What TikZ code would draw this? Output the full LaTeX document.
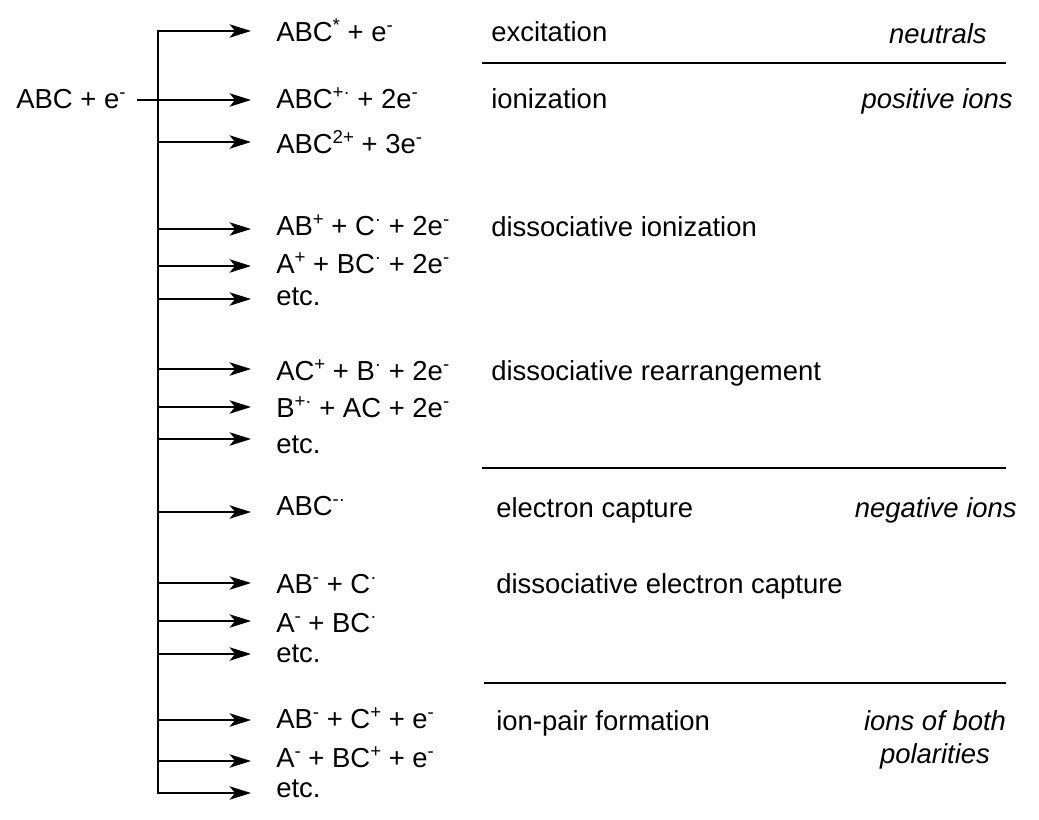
\documentclass[tikz,border=0pt]{standalone}
\usepackage{fontspec}
\setmainfont{Liberation Sans}
\usetikzlibrary{arrows.meta}
% small raised charge / radical marks
\newcommand{\chsup}[1]{\raisebox{7.5pt}{\fontsize{14}{14}\selectfont #1}}

\begin{document}
\begin{tikzpicture}[x=0.75pt,y=-0.75pt,
  txt/.style={inner sep=0pt,anchor=base west,font=\fontsize{20.6}{24}\selectfont},
  cls/.style={inner sep=0pt,anchor=base east,font=\fontsize{20.6}{24}\selectfont\itshape},
  sep/.style={line width=1.3pt},
  trunk/.style={line width=1.5pt,line cap=rect},
  arr/.style={line width=1.5pt,-{Stealth[length=16pt,width=10pt,inset=4pt]}}]
\useasboundingbox (0,0) rectangle (1039,819);

% reactant
\node[txt] (src) at (16,108) {ABC + e\chsup{-}};
\coordinate (s0) at (137,100);

% branch points on the trunk and arrow tips
\foreach \i/\y in {1/31,3/142,4/229,5/266,6/299,7/369,8/407,9/439,
                   10/512,11/583,12/621,13/654,14/720,15/761,16/793}{
  \coordinate (b\i) at (158,\y);
  \coordinate (t\i) at (251,\y);
}
\coordinate (t2) at (251,100);

% trunk
\draw[trunk] (b1) -- (b16);
\draw[arr] (s0) -- (t2);
\foreach \i in {1,3,4,5,6,7,8,9,10,11,12,13,14,15,16}{
  \draw[arr] (b\i) -- (t\i);
}

% products
\node[txt] (p1)  at (276,41)  {ABC\chsup{*} + e\chsup{-}};
\node[txt] (p2)  at (276,108) {ABC\chsup{+·} + 2e\chsup{-}};
\node[txt] (p3)  at (276,153) {ABC\chsup{2+} + 3e\chsup{-}};
\node[txt] (p4)  at (276,235) {AB\chsup{+} + C\chsup{·} + 2e\chsup{-}};
\node[txt] (p5)  at (276,273) {A\chsup{+} + BC\chsup{·} + 2e\chsup{-}};
\node[txt] (p6)  at (276,305) {etc.};
\node[txt] (p7)  at (276,380) {AC\chsup{+} + B\chsup{·} + 2e\chsup{-}};
\node[txt] (p8)  at (276,417) {B\chsup{+·} + AC + 2e\chsup{-}};
\node[txt] (p9)  at (276,453) {etc.};
\node[txt] (p10) at (276,515) {ABC\chsup{-·}};
\node[txt] (p11) at (276,593) {AB\chsup{-} + C\chsup{·}};
\node[txt] (p12) at (276,632) {A\chsup{-} + BC\chsup{·}};
\node[txt] (p13) at (276,662) {etc.};
\node[txt] (p14) at (276,728) {AB\chsup{-} + C\chsup{+} + e\chsup{-}};
\node[txt] (p15) at (276,767) {A\chsup{-} + BC\chsup{+} + e\chsup{-}};
\node[txt] (p16) at (276,797) {etc.};

% process names
\node[txt] (l1) at (491,41)  {excitation};
\node[txt] (l2) at (491,108) {ionization};
\node[txt] (l3) at (491,236) {dissociative ionization};
\node[txt] (l4) at (491,380) {dissociative rearrangement};
\node[txt] (l5) at (496,517) {electron capture};
\node[txt] (l6) at (496,593) {dissociative electron capture};
\node[txt] (l7) at (496,730) {ion-pair formation};

% product classes
\node[cls] (c1) at (987,43)   {neutrals};
\node[cls] (c2) at (1013,108) {positive ions};
\node[cls] (c3) at (1017,517) {negative ions};
\node[cls,anchor=base] (c4a) at (935,730) {ions of both};
\node[cls,anchor=base] (c4b) at (935,763) {polarities};

% separators
\coordinate (h1a) at (482,63);  \coordinate (h1b) at (1006,63);
\coordinate (h2a) at (482,468); \coordinate (h2b) at (1006,468);
\coordinate (h3a) at (484,683); \coordinate (h3b) at (1006,683);
\draw[sep] (h1a) -- (h1b);
\draw[sep] (h2a) -- (h2b);
\draw[sep] (h3a) -- (h3b);
\end{tikzpicture}
\end{document}
